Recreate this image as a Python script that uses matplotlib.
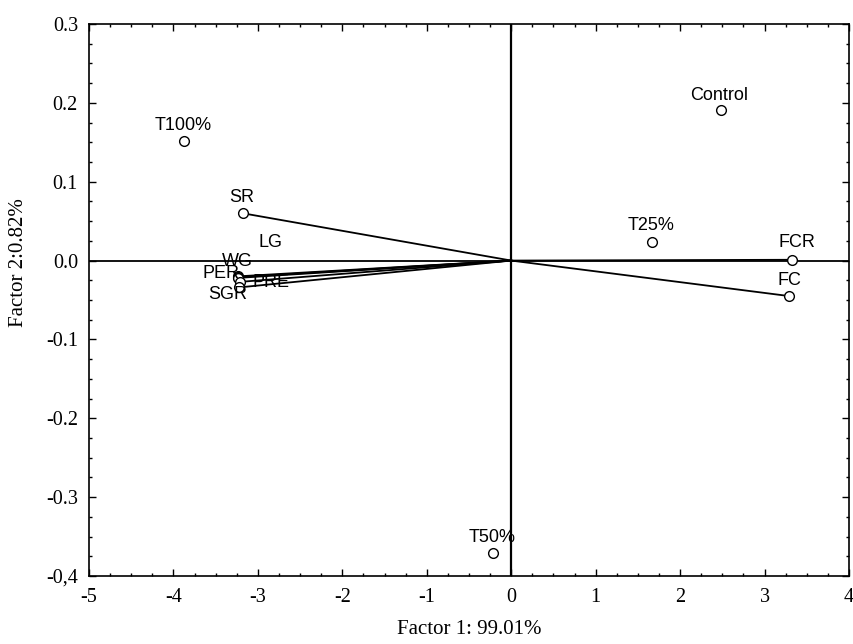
import matplotlib
matplotlib.use("Agg")
import matplotlib.pyplot as plt
from matplotlib.ticker import MultipleLocator, FixedLocator, FixedFormatter

# Variables (loadings, drawn as vectors from origin)
var_names = ["SR", "LG", "WG", "PER", "PRE", "SGR", "FCR", "FC"]
var_x = [-3.18, -3.23, -3.23, -3.24, -3.21, -3.22, 3.32, 3.29]
var_y = [0.060, -0.020, -0.021, -0.022, -0.027, -0.034, 0.001, -0.045]

# Cases (treatments)
case_names = ["T100%", "Control", "T25%", "T50%"]
case_x = [-3.87, 2.48, 1.67, -0.21]
case_y = [0.152, 0.191, 0.024, -0.371]

x_ticks = [-5, -4, -3, -2, -1, 0, 1, 2, 3, 4]
x_ticklabels = ["-5", "-4", "-3", "-2", "-1", "0", "1", "2", "3", "4"]
y_ticks = [0.3, 0.2, 0.1, 0.0, -0.1, -0.2, -0.3, -0.4]
y_ticklabels = ["0.3", "0.2", "0.1", "0.0", "-0.1", "-0.2", "-0.3", "-0,4"]

# label offsets in pixels (dx right, dy up)
var_off = [(-1, 16), (32, 34), (-1, 16), (-17, 4), (31, -1), (-12, -7), (5, 17), (0, 16)]
case_off = [(-1, 15), (-2, 14), (-1, 16), (-1, 16)]

fig = plt.figure(figsize=(8.54, 6.44), dpi=100)
ax = fig.add_axes([89/854, 68/644, 760/854, 552/644])
ax.set_xlim(-5, 4)
ax.set_ylim(-0.4, 0.3)

ax.axhline(0, color="black", lw=1.3, zorder=1)
ax.axvline(0, color="black", lw=1.6, zorder=1)

for x, y in zip(var_x, var_y):
    ax.plot([0, x], [0, y], color="black", lw=1.3, zorder=2)

ax.plot(var_x, var_y, "o", ms=7, mfc="white", mec="black", mew=1.0, ls="none", zorder=3)
ax.plot(case_x, case_y, "o", ms=7, mfc="white", mec="black", mew=1.0, ls="none", zorder=3)

lab_font = dict(family=["Liberation Sans", "DejaVu Sans"], size=13)
px2pt = 72 / 100
for n, x, y, (dx, dy) in zip(var_names, var_x, var_y, var_off):
    ax.annotate(n, (x, y), xytext=(dx*px2pt, dy*px2pt), textcoords="offset points",
                ha="center", va="center", zorder=4, **lab_font)
for n, x, y, (dx, dy) in zip(case_names, case_x, case_y, case_off):
    ax.annotate(n, (x, y), xytext=(dx*px2pt, dy*px2pt), textcoords="offset points",
                ha="center", va="center", zorder=4, **lab_font)

ax.xaxis.set_major_locator(FixedLocator(x_ticks))
ax.xaxis.set_major_formatter(FixedFormatter(x_ticklabels))
ax.yaxis.set_major_locator(FixedLocator(y_ticks))
ax.yaxis.set_major_formatter(FixedFormatter(y_ticklabels))
ax.xaxis.set_minor_locator(MultipleLocator(0.25))
ax.yaxis.set_minor_locator(MultipleLocator(0.025))
ax.tick_params(which="both", direction="in", top=True, right=True, width=1.0)
ax.tick_params(which="major", length=5)
ax.tick_params(which="minor", length=2.5)
for lab in ax.get_xticklabels() + ax.get_yticklabels():
    lab.set_family(["Liberation Serif", "DejaVu Serif"])
    lab.set_fontsize(14.5)
ax.tick_params(axis="x", pad=9)
ax.tick_params(axis="y", pad=8)
for s in ax.spines.values():
    s.set_linewidth(1.2)

ax.set_xlabel("Factor 1: 99.01%", family=["Liberation Serif", "DejaVu Serif"], fontsize=15)
ax.set_ylabel("Factor 2:0.82%", family=["Liberation Serif", "DejaVu Serif"], fontsize=15)
ax.xaxis.set_label_coords(0.5, -0.080)
ax.yaxis.set_label_coords(-0.080, 0.567)

fig.savefig("out.png", dpi=100)
